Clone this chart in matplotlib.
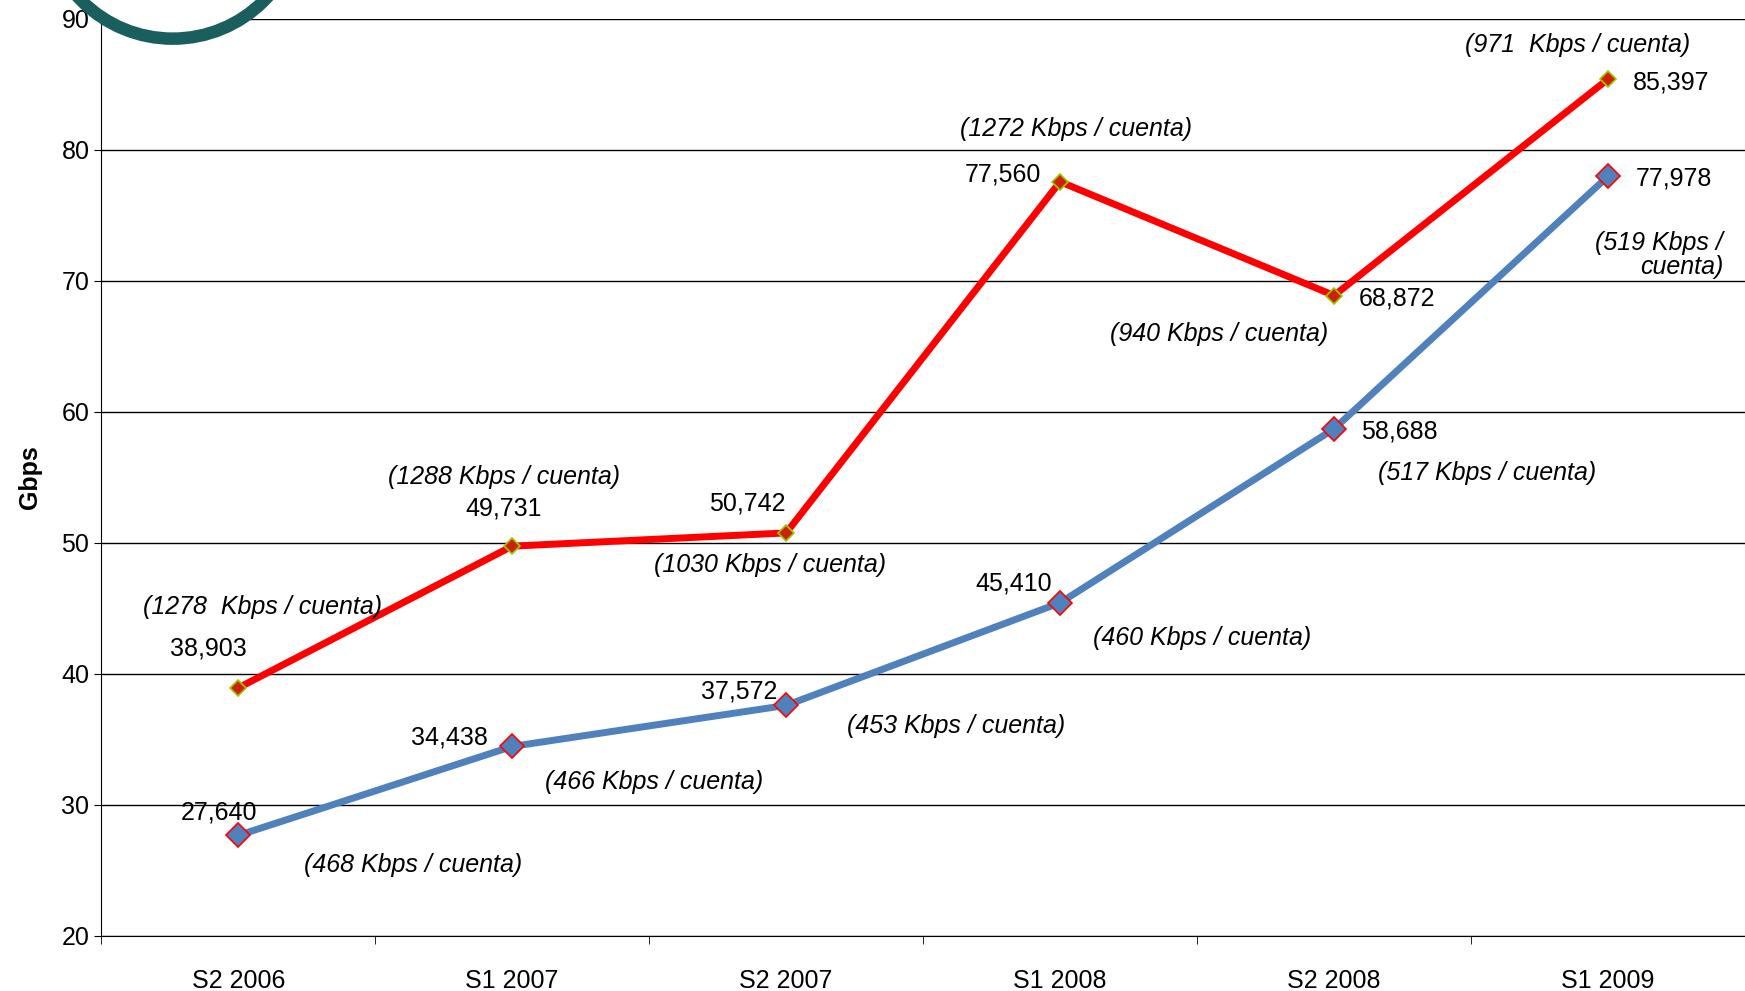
import matplotlib
matplotlib.use('Agg')
import matplotlib.pyplot as plt
from matplotlib.patches import Ellipse

periods = ['S2 2006', 'S1 2007', 'S2 2007', 'S1 2008', 'S2 2008', 'S1 2009']
red_vals = [38.903, 49.731, 50.742, 77.560, 68.872, 85.397]
blue_vals = [27.640, 34.438, 37.572, 45.410, 58.688, 77.978]
red_txt = ['38,903', '49,731', '50,742', '77,560', '68,872', '85,397']
blue_txt = ['27,640', '34,438', '37,572', '45,410', '58,688', '77,978']
red_kbps = ['(1278  Kbps / cuenta)', '(1288 Kbps / cuenta)', '(1030 Kbps / cuenta)',
            '(1272 Kbps / cuenta)', '(940 Kbps / cuenta)', '(971  Kbps / cuenta)']
blue_kbps = ['(468 Kbps / cuenta)', '(466 Kbps / cuenta)', '(453 Kbps / cuenta)',
             '(460 Kbps / cuenta)', '(517 Kbps / cuenta)', '(519 Kbps /\ncuenta)']

# label positions (data coords)
red_pos = [(-0.11, 41.9), (0.97, 52.6), (1.86, 53.0), (2.79, 78.1), (4.23, 68.65), (5.23, 85.15)]
red_kpos = [(0.09, 45.1), (0.97, 55.0), (1.94, 48.3), (3.06, 81.6), (3.58, 65.9), (4.89, 88.0)]
blue_pos = [(-0.07, 29.4), (0.77, 35.1), (1.83, 38.6), (2.83, 46.9), (4.24, 58.5), (5.24, 77.8)]
blue_kpos = [(0.64, 25.4), (1.52, 31.7), (2.62, 36.0), (3.52, 42.7), (4.56, 55.3), (5.42, 72.0)]

fig = plt.figure(figsize=(17.45, 9.91), dpi=100)
ax = fig.add_axes([0.058, 0.056, 0.942, 0.925])
x = range(len(periods))
ax.plot(x, red_vals, color='#FF0000', lw=5, marker='D', ms=8,
        mfc='#CC2200', mec='#99CC00', mew=1.2, zorder=3)
ax.plot(x, blue_vals, color='#4F81BD', lw=5, marker='D', ms=12,
        mfc='#4F81BD', mec='#FF0000', mew=1.2, zorder=3)

fs = 18
for (px, py), t in zip(red_pos + blue_pos, red_txt + blue_txt):
    ax.text(px, py, t, fontsize=fs, ha='center', va='center', family='Liberation Sans')
for i, ((px, py), t) in enumerate(zip(red_kpos + blue_kpos, red_kbps + blue_kbps)):
    ha = 'right' if i == 11 else 'center'
    ax.text(px, py, t, fontsize=fs, ha=ha, va='center', style='italic',
            family='Liberation Sans', multialignment='right', linespacing=1.0)

ax.set_xlim(-0.5, 5.42)
ax.set_ylim(20, 90)
ax.set_yticks(range(20, 91, 10))
ax.set_xticks(x)
ax.set_xticklabels(periods, fontsize=fs, family='Liberation Sans')
ax.set_xticks([i - 0.5 for i in range(7)], minor=True)
ax.tick_params(axis='x', which='major', length=0, pad=24)
ax.tick_params(axis='x', which='minor', length=6)
ax.tick_params(axis='y', labelsize=fs, length=5)
for lab in ax.get_yticklabels():
    lab.set_family('Liberation Sans')
ax.yaxis.grid(True, color='black', lw=1)
ax.set_axisbelow(True)
for s in ['top', 'right']:
    ax.spines[s].set_visible(False)
ax.set_ylabel('Gbps', fontsize=18, fontweight='bold', family='Liberation Sans', labelpad=14)

fig.add_artist(Ellipse((0.099, 1.09), 0.147, 0.258, transform=fig.transFigure,
                       facecolor='white', edgecolor='#1a5e5e', lw=9, zorder=5))

fig.savefig('out.png', dpi=100)
